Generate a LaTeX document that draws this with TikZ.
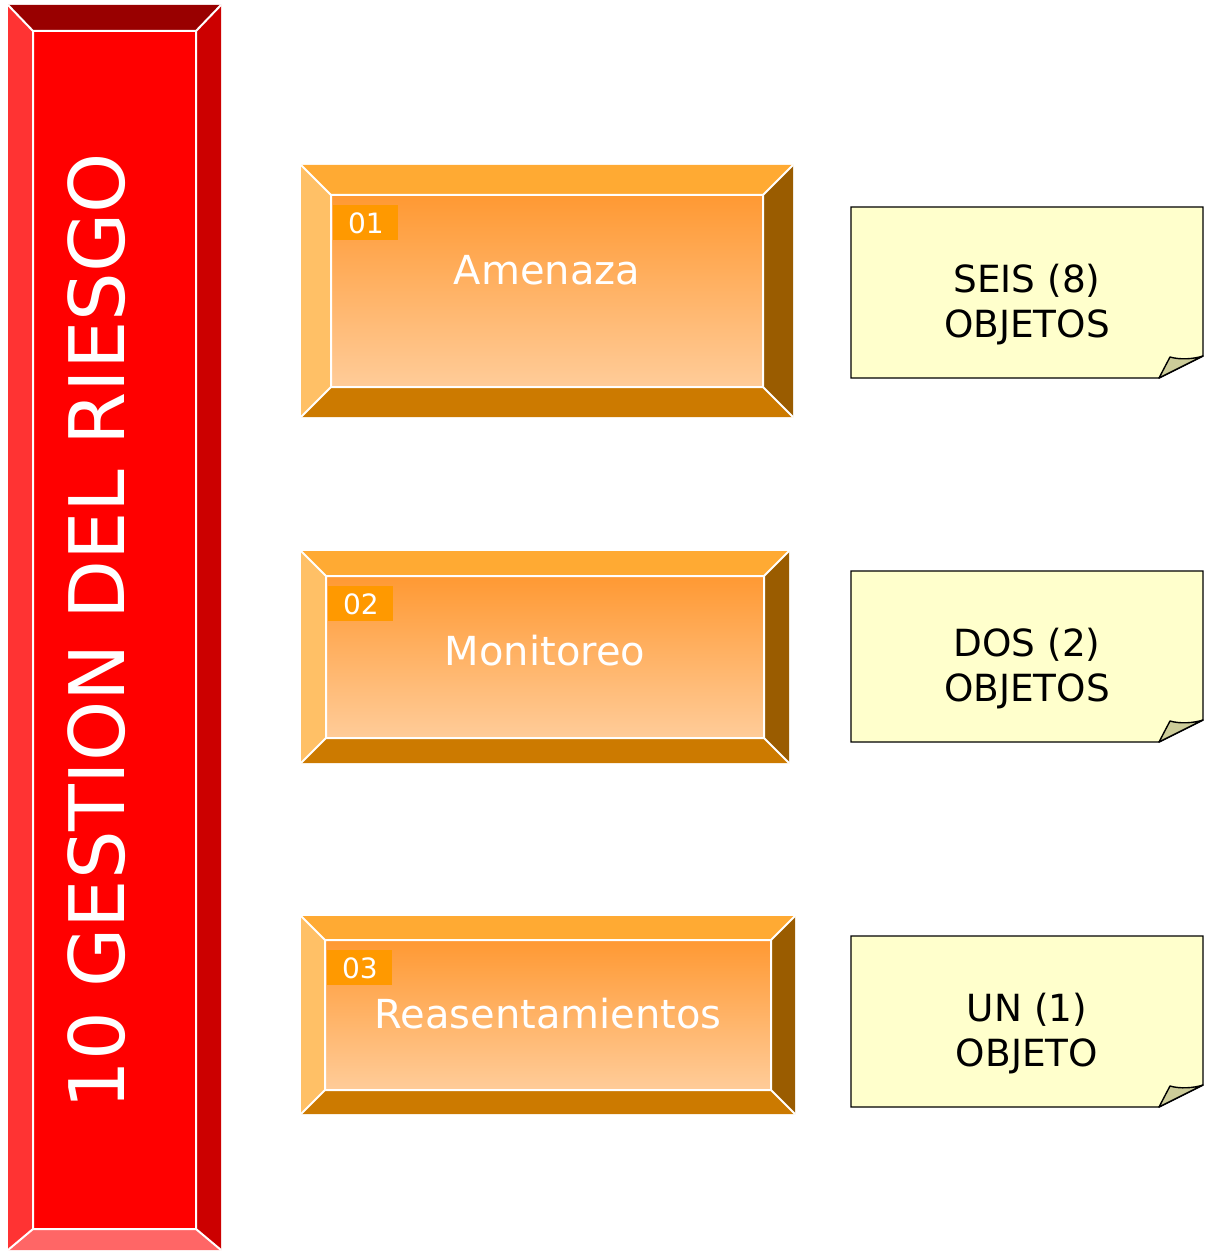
\documentclass[tikz,border=0pt]{standalone}
\usepackage{fontspec}
\setmainfont{DejaVu Sans}
\usepackage{tikz}
\usetikzlibrary{positioning}
\usepackage{xcolor}
\definecolor{barTop}{HTML}{990000}
\definecolor{barLeft}{HTML}{FF3333}
\definecolor{barRight}{HTML}{CC0000}
\definecolor{barBottom}{HTML}{FF6666}
\definecolor{barFace}{HTML}{FF0000}
\definecolor{boxTop}{HTML}{FFAA33}
\definecolor{boxLeft}{HTML}{FFC066}
\definecolor{boxRight}{HTML}{9A5C00}
\definecolor{boxBottom}{HTML}{CC7A00}
\definecolor{boxFaceTop}{HTML}{FF9933}
\definecolor{boxFaceBottom}{HTML}{FFCC99}
\definecolor{tagFill}{HTML}{FF9900}
\definecolor{noteFill}{HTML}{FFFFCC}
\definecolor{noteFlap}{HTML}{CCCC99}

\begin{document}
\begin{tikzpicture}[
    x=0.5pt, y=-0.5pt,
    edge/.style={draw=white, line width=1pt},
    tagbox/.style={
        rectangle, fill=tagFill, anchor=north west, inner sep=0pt,
        minimum width=32.5pt, minimum height=17.5pt,
        text=white, font=\fontsize{14}{16}\selectfont
    },
    boxlabel/.style={anchor=base, text=white, inner sep=0pt, font=\fontsize{20}{24}\selectfont},
    notetext/.style={align=center, inner sep=0pt, font=\fontsize{18.7}{22.5}\selectfont},
    title/.style={rotate=90, anchor=base, text=white, inner sep=0pt, font=\fontsize{38.3}{45}\selectfont}
]
\useasboundingbox (0,0) rectangle (1206,1251);

% --- Left: red bevelled bar -----------------------------------------------
\fill[barTop] (8,5) -- (221,5) -- (196,31) -- (33,31) -- cycle;
\fill[barLeft] (8,5) -- (33,31) -- (33,1229) -- (8,1250) -- cycle;
\fill[barRight] (221,5) -- (221,1250) -- (196,1229) -- (196,31) -- cycle;
\fill[barBottom] (8,1250) -- (33,1229) -- (196,1229) -- (221,1250) -- cycle;
\fill[barFace] (33,31) rectangle (196,1229);
\draw[edge] (8,5) -- (33,31) (221,5) -- (196,31) (8,1250) -- (33,1229) (221,1250) -- (196,1229)
    (33,31) rectangle (196,1229);
\node[title] (title) at (124,631) {10 GESTION DEL RIESGO};

% --- Middle: orange bevelled boxes ---------------------------------------
\foreach \xa/\ya/\xb/\yb/\bw/\tagnum/\word/\base in {
    301/165/793/417/30/01/Amenaza/285,
    301/551/789/763/25/02/Monitoreo/665,
    301/916/795/1114/24/03/Reasentamientos/1028}{
    \fill[boxTop] (\xa,\ya) -- (\xb,\ya) -- ({\xb-\bw},{\ya+\bw}) -- ({\xa+\bw},{\ya+\bw}) -- cycle;
    \fill[boxLeft] (\xa,\ya) -- ({\xa+\bw},{\ya+\bw}) -- ({\xa+\bw},{\yb-\bw}) -- (\xa,\yb) -- cycle;
    \fill[boxRight] (\xb,\ya) -- (\xb,\yb) -- ({\xb-\bw},{\yb-\bw}) -- ({\xb-\bw},{\ya+\bw}) -- cycle;
    \fill[boxBottom] (\xa,\yb) -- ({\xa+\bw},{\yb-\bw}) -- ({\xb-\bw},{\yb-\bw}) -- (\xb,\yb) -- cycle;
    \shade[top color=boxFaceTop, bottom color=boxFaceBottom] ({\xa+\bw},{\ya+\bw}) rectangle ({\xb-\bw},{\yb-\bw});
    \draw[edge] (\xa,\ya) -- ({\xa+\bw},{\ya+\bw}) (\xb,\ya) -- ({\xb-\bw},{\ya+\bw})
        (\xa,\yb) -- ({\xa+\bw},{\yb-\bw}) (\xb,\yb) -- ({\xb-\bw},{\yb-\bw})
        ({\xa+\bw},{\ya+\bw}) rectangle ({\xb-\bw},{\yb-\bw});
    \node[tagbox] (tag\tagnum) at ({\xa+\bw+2},{\ya+\bw+10}) {\tagnum};
    \node[boxlabel] (label\tagnum) at ({(\xa+\xb)/2},\base) {\word};
}

% --- Right: sticky notes with folded corner ------------------------------
\foreach \ya/\lineA/\lineB [count=\i] in {207/{SEIS (8)}/OBJETOS, 571/{DOS (2)}/OBJETOS, 936/{UN (1)}/OBJETO}{
    \draw[fill=noteFill, line width=0.7pt] (851,\ya) -- (1203,\ya) -- (1203,{\ya+149})
        -- (1159,{\ya+171}) -- (851,{\ya+171}) -- cycle;
    \draw[fill=noteFlap, line width=0.7pt, line join=round] (1159,{\ya+171}) -- (1170,{\ya+150})
        .. controls (1180,{\ya+153}) and (1194,{\ya+152}) .. (1203,{\ya+149}) -- cycle;
    \node[notetext] (note\i) at (1027,{\ya+98}) {\lineA\\\lineB};
}

\end{tikzpicture}
\end{document}
